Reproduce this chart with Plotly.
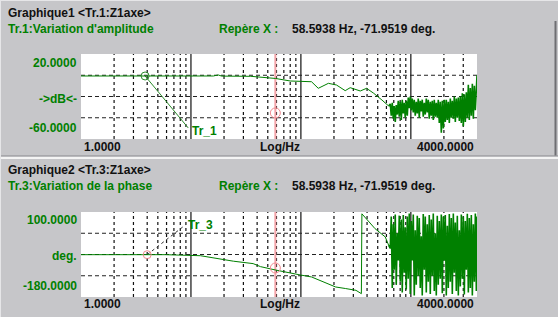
import math
import plotly.graph_objects as go

W, H = 558, 317

# ---------------- data ----------------
amp_freq_hz = [1, 5, 10, 16, 17.7, 19, 35, 49, 58.6, 80, 99, 125, 144, 178, 211, 253, 281, 347, 396, 460, 546, 628]
amp_db = [-0.7, -0.7, -0.7, -0.7, 0.3, -0.8, -1.0, -2.3, -3.0, -5.4, -5.8, -6.1, -12.3, -7.6, -9.2, -14.5, -11.7, -14.8, -12.3, -17.0, -23.3, -28.9]

phase_freq_hz = [1, 5.83, 12.2, 24.3, 36.8, 42.9, 58.6, 80.4, 99, 125, 150, 207, 254, 317, 355, 359, 473, 585, 628]
phase_deg = [-40.6, -40.6, -44, -62, -70, -80, -91, -102, -107.5, -114, -125, -147, -152, -158, -169, 94, 45, 18, -9]

noise_freq_hz = [650, 664, 678, 692, 707, 722, 737, 753, 769, 785, 802, 819, 836, 854, 872, 890,
                 909, 929, 948, 968, 989, 1010, 1031, 1053, 1075, 1098, 1121, 1145, 1169, 1194,
                 1219, 1245, 1271, 1298, 1326, 1354, 1383, 1412, 1442, 1472, 1504, 1535, 1568,
                 1601, 1635, 1670, 1705, 1741, 1778, 1816, 1854, 1894, 1934, 1975, 2017, 2059,
                 2103, 2148, 2193, 2240, 2287, 2335, 2385, 2436, 2487, 2540, 2594, 2649, 2705,
                 2762, 2821, 2880, 2941, 3004, 3067, 3132, 3199, 3266, 3336, 3406, 3478, 3552,
                 3628, 3704, 3783, 3863, 3945, 4000]

amp_noise_db = [-27, -38, -26, -41, -29, -44, -28, -37,
                -24, -39, -25, -42, -23, -36, -26, -40, -24, -38,
                -21, -31, -20, -33, -22,
                -35, -23, -38, -25, -36, -22, -40, -24, -34, -23, -39, -26, -37, -22, -35,
                -23, -41, -25, -38, -24, -42, -23, -39, -26, -40,
                -23, -45, -25, -54, -24, -50, -23, -44,
                -23, -42, -25, -45, -22, -40, -24,
                -41, -20, -44, -22, -40, -21, -43, -20,
                -45, -17, -48, -18, -44, -16,
                -40, -9, -42, -12, -38, -8, -41,
                -10, -33, -12,
                0]

phase_noise_deg = [-20, 85, -150, 60, -90, 92, -140, 30, -60, 88,
                   -130, 75, -165, 90, -100, 50, -155, 85, -120, 95,
                   -170, 70, -60, 92, -175, 40, -140, 88, -110, 80,
                   -150, 20, -175, 93, -90, 85, -165, 60, -130, 90,
                   -170, 75, -110, 95, -160, 30, -175, 88, -140, 70,
                   -120, 92, -168, 85, -60, 90, -175, 55, -150, 93,
                   -130, 80, -170, 95, -100, 65, -160, 88, -175, 40,
                   -145, 92, -120, 85, -172, 70, -90, 94, -165, 80,
                   -150, 90, -175, 60, -130, 95, -160, 85]

x_min_hz, x_max_hz = 1.0, 4000.0
amp_range = [-60, 20]
phase_range = [-180, 100]
amp_hgrid = [0, -20, -40]
phase_hgrid = [30, -40, -110]
decades_hz = [10, 100, 1000]
minor_hz = [m * d for d in [1, 10, 100, 1000] for m in range(2, 10) if m * d < 4000]

marker_hz = 58.5938
amp_marker_circle = -35.5
phase_marker_circle = -84.5
tr1_pts = ([3.83, 9.45], [-0.7, -49.6])
tr3_pts = ([4.0, 8.87], [-40.6, 57])

# ---------------- styling ----------------
BG = "#c6c6c9"
GREEN = "#008000"
FONT = "Liberation Sans"
FS = 12

fig = go.Figure()


def px_x(p):
    return p / W


def px_y(p):
    return 1 - p / H


def add_grid(xa, ya, yr, hgrid):
    xs, ys = [], []
    for f in minor_hz:
        xs += [f, f, None]
        ys += [yr[0], yr[1], None]
    fig.add_trace(go.Scatter(x=xs, y=ys, mode="lines", xaxis=xa, yaxis=ya,
                             line=dict(color="#111", width=1.2, dash="3px,3px"),
                             hoverinfo="skip", showlegend=False))
    xs, ys = [], []
    for f in decades_hz:
        xs += [f, f, None]
        ys += [yr[0], yr[1], None]
    fig.add_trace(go.Scatter(x=xs, y=ys, mode="lines", xaxis=xa, yaxis=ya,
                             line=dict(color="#404040", width=1.5),
                             hoverinfo="skip", showlegend=False))
    xs, ys = [], []
    for v in hgrid:
        xs += [x_min_hz, x_max_hz, None]
        ys += [v, v, None]
    fig.add_trace(go.Scatter(x=xs, y=ys, mode="lines", xaxis=xa, yaxis=ya,
                             line=dict(color="#222", width=1, dash="4px,3px"),
                             hoverinfo="skip", showlegend=False))
    fig.add_trace(go.Scatter(x=[marker_hz, marker_hz], y=yr, mode="lines", xaxis=xa, yaxis=ya,
                             line=dict(color="#f3a3a8", width=2),
                             hoverinfo="skip", showlegend=False))


add_grid("x", "y", amp_range, amp_hgrid)
add_grid("x2", "y2", phase_range, phase_hgrid)

# Tr_1 pointer
fig.add_trace(go.Scatter(x=tr1_pts[0], y=tr1_pts[1], mode="lines", xaxis="x", yaxis="y",
                         line=dict(color="#2a8a2a", width=1), showlegend=False))
# Amplitude trace: smooth part + noisy part
fig.add_trace(go.Scatter(x=amp_freq_hz, y=amp_db, mode="lines",
                         xaxis="x", yaxis="y", line=dict(color=GREEN, width=1), showlegend=False))
fig.add_trace(go.Scatter(x=amp_freq_hz[-1:] + noise_freq_hz, y=amp_db[-1:] + amp_noise_db, mode="lines",
                         xaxis="x", yaxis="y", line=dict(color=GREEN, width=1.6), showlegend=False))
fig.add_trace(go.Scatter(x=[tr1_pts[0][0]], y=[tr1_pts[1][0]], mode="markers", xaxis="x", yaxis="y",
                         marker=dict(symbol="circle-open", size=8, color="#2a8a2a", line=dict(width=1)),
                         showlegend=False))
fig.add_trace(go.Scatter(x=[marker_hz], y=[amp_marker_circle], mode="markers", xaxis="x", yaxis="y",
                         marker=dict(symbol="circle-open", size=10, color="#f08a90", line=dict(width=1)),
                         showlegend=False))

# Tr_3 pointer
fig.add_trace(go.Scatter(x=tr3_pts[0], y=tr3_pts[1], mode="lines", xaxis="x2", yaxis="y2",
                         line=dict(color="#333", width=1, dash="dot"), showlegend=False))
# Phase trace: smooth part + noisy part
fig.add_trace(go.Scatter(x=phase_freq_hz, y=phase_deg, mode="lines",
                         xaxis="x2", yaxis="y2", line=dict(color=GREEN, width=1), showlegend=False))
fig.add_trace(go.Scatter(x=phase_freq_hz[-1:] + noise_freq_hz, y=phase_deg[-1:] + phase_noise_deg, mode="lines",
                         xaxis="x2", yaxis="y2", line=dict(color=GREEN, width=1.6), showlegend=False))
fig.add_trace(go.Scatter(x=[tr3_pts[0][0]], y=[tr3_pts[1][0]], mode="markers", xaxis="x2", yaxis="y2",
                         marker=dict(symbol="circle-open", size=8, color="#f08a90", line=dict(width=1)),
                         showlegend=False))
fig.add_trace(go.Scatter(x=[marker_hz], y=[phase_marker_circle], mode="markers", xaxis="x2", yaxis="y2",
                         marker=dict(symbol="circle-open", size=10, color="#f08a90", line=dict(width=1)),
                         showlegend=False))

axis_common = dict(showgrid=False, zeroline=False, showticklabels=False, ticks="",
                   showline=False, fixedrange=True)
xr = [math.log10(x_min_hz), math.log10(x_max_hz)]
fig.update_layout(
    width=W, height=H, margin=dict(l=0, r=0, t=0, b=0),
    paper_bgcolor=BG, plot_bgcolor="white", showlegend=False,
    xaxis=dict(domain=[px_x(81), px_x(477)], type="log", range=xr, anchor="y", **axis_common),
    yaxis=dict(domain=[px_y(139), px_y(54)], range=amp_range, anchor="x", **axis_common),
    xaxis2=dict(domain=[px_x(81), px_x(477)], type="log", range=xr, anchor="y2", **axis_common),
    yaxis2=dict(domain=[px_y(297), px_y(212)], range=phase_range, anchor="x2", **axis_common),
)

ann = []


def txt(x, y, s, color="black", xanchor="left", size=FS, xref="paper", yref="paper"):
    ann.append(dict(x=x, y=y, xref=xref, yref=yref, text=s, showarrow=False,
                    xanchor=xanchor, yanchor="middle",
                    font=dict(family=FONT, size=size, color=color, weight="bold")))


for off, title, sub, top, mid, bot in [
    (0, "Graphique1 &lt;Tr.1:Z1axe&gt;", "Tr.1:Variation d'amplitude", "20.0000", "-&gt;dB&lt;-", "-60.0000"),
    (157, "Graphique2 &lt;Tr.3:Z1axe&gt;", "Tr.3:Variation de la phase", "100.0000", "deg.", "-180.0000"),
]:
    txt(px_x(6), px_y(12.7 + off), title, "#111")
    txt(px_x(6), px_y(29.3 + off), sub, GREEN)
    txt(px_x(217), px_y(29.3 + off), "Repère X :", GREEN)
    txt(px_x(290), px_y(29.3 + off), "58.5938 Hz, -71.9519 deg.", "#111")
    txt(px_x(79), px_y(63.2 + off), top, GREEN, "right")
    txt(px_x(79), px_y(98.5 + off), mid, GREEN, "right")
    txt(px_x(79), px_y(128.5 + off), bot, GREEN, "right")
    txt(px_x(82), px_y(146.7 + off), "1.0000", "#111")
    txt(px_x(279.5), px_y(146.7 + off), "Log/Hz", "#111", "center")
    txt(px_x(476), px_y(146.7 + off), "4000.0000", "#111", "right")

txt(math.log10(9.9), -52.5, "Tr_1", GREEN, xref="x", yref="y")
txt(math.log10(9.1), 58, "Tr_3", GREEN, xref="x2", yref="y2")
fig.update_layout(annotations=ann)

shapes = [
    dict(type="line", xref="paper", yref="paper", x0=0, x1=1, y0=px_y(155.8), y1=px_y(155.8),
         line=dict(color="#9a9a9e", width=1)),
    dict(type="line", xref="paper", yref="paper", x0=0, x1=1, y0=px_y(158), y1=px_y(158),
         line=dict(color="#f4f4f4", width=2)),
    dict(type="line", xref="paper", yref="paper", x0=px_x(555.5), x1=px_x(555.5), y0=px_y(21), y1=px_y(155.5),
         line=dict(color="#6e6e72", width=2)),
    dict(type="line", xref="paper", yref="paper", x0=0, x1=1, y0=px_y(0.5), y1=px_y(0.5),
         line=dict(color="#e6e6e8", width=1)),
    dict(type="line", xref="paper", yref="paper", x0=px_x(0.5), x1=px_x(0.5), y0=0, y1=1,
         line=dict(color="#e6e6e8", width=1)),
]
fig.update_layout(shapes=shapes)

fig.write_html("out.html")
